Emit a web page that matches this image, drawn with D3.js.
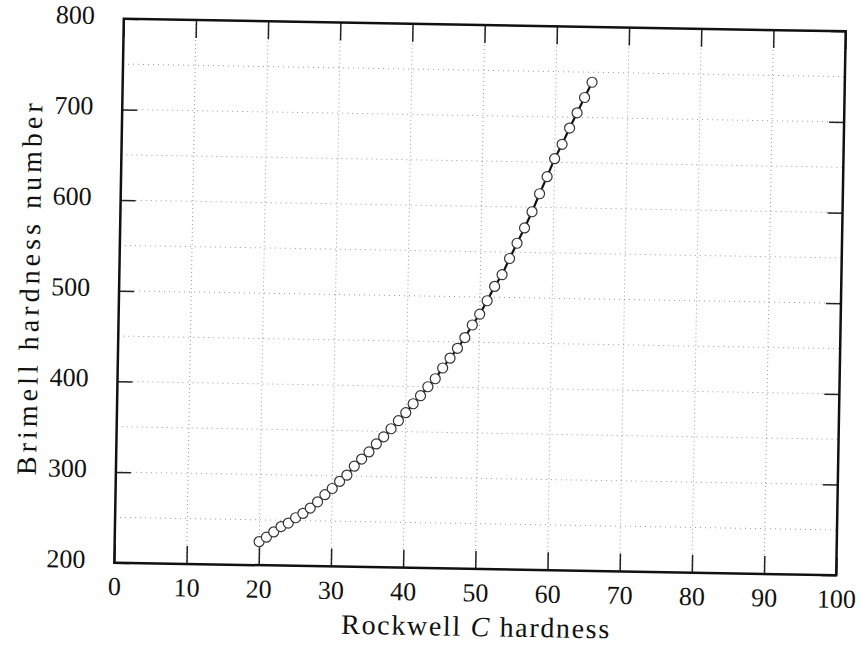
<!DOCTYPE html>
<html>
<head>
<meta charset="utf-8">
<script src="https://cdn.jsdelivr.net/npm/d3@7"></script>
<style>
  body { margin: 0; background: #fff; }
  svg { display: block; }
</style>
</head>
<body>
<script>
// Rockwell C hardness and matching Brinell numbers
var rockwellC = [20, 21, 22, 23, 24, 25, 26, 27, 28, 29, 30, 31, 32, 33, 34, 35, 36, 37, 38, 39,
                 40, 41, 42, 43, 44, 45, 46, 47, 48, 49, 50, 51, 52, 53, 54, 55, 56, 57, 58, 59,
                 60, 61, 62, 63, 64, 65];
var brinell = [226, 231, 237, 243, 247, 253, 258, 264, 271, 279, 286, 294, 301, 311, 319, 327, 336, 344, 353, 362,
               371, 381, 390, 400, 409, 421, 432, 443, 455, 469, 481, 496, 512, 525, 543, 560, 577, 595, 615, 634,
               654, 670, 688, 705, 722, 739];
var xTicks = [0, 10, 20, 30, 40, 50, 60, 70, 80, 90, 100];
var yTicks = [200, 300, 400, 500, 600, 700, 800];
var yGrid = [250, 300, 350, 400, 450, 500, 550, 600, 650, 700, 750];

var W = 861, H = 656;
var margin = { top: 25, right: 20, bottom: 87, left: 119 };
var width = 722, height = 544;
var serif = "Liberation Serif, Times New Roman, serif";

var svg = d3.select("body").append("svg")
    .attr("width", W)
    .attr("height", H);

// the scan is a little tilted
var root = svg.append("g")
    .attr("transform", "rotate(1," + (margin.left + width / 2) + "," + (margin.top + height / 2) + ")");

var g = root.append("g")
    .attr("transform", "translate(" + margin.left + "," + margin.top + ")");

var x = d3.scaleLinear().domain([0, 100]).range([0, width]);
var y = d3.scaleLinear().domain([200, 800]).range([height, 0]);

// dotted grid
g.append("g").selectAll("line").data(xTicks.slice(1, -1)).enter().append("line")
    .attr("x1", function (d) { return x(d); })
    .attr("x2", function (d) { return x(d); })
    .attr("y1", 0).attr("y2", height)
    .attr("stroke", "#999").attr("stroke-width", 1).attr("stroke-dasharray", "1,3");

g.append("g").selectAll("line").data(yGrid).enter().append("line")
    .attr("y1", function (d) { return y(d); })
    .attr("y2", function (d) { return y(d); })
    .attr("x1", 0).attr("x2", width)
    .attr("stroke", "#999").attr("stroke-width", 1).attr("stroke-dasharray", "1,4");

// axes with inward ticks
var tickFont = function (sel) {
    sel.selectAll("text")
        .attr("font-family", serif)
        .attr("font-size", "26px")
        .attr("fill", "#111");
    sel.select(".domain").remove();
    sel.selectAll("line").attr("stroke", "#222").attr("stroke-width", 1.5);
};

g.append("g").attr("transform", "translate(0," + height + ")")
    .call(d3.axisBottom(x).tickValues(xTicks).tickSizeInner(-18).tickSizeOuter(0).tickPadding(14))
    .call(tickFont);

g.append("g").attr("transform", "translate(0,0)")
    .call(d3.axisTop(x).tickValues(xTicks).tickSizeInner(-18).tickSizeOuter(0).tickFormat(""))
    .call(tickFont);

var yAxis = g.append("g")
    .call(d3.axisLeft(y).tickValues(yTicks).tickSizeInner(-15).tickSizeOuter(0).tickPadding(29))
    .call(tickFont);
yAxis.selectAll("text").attr("dy", "0.2em");

g.append("g").attr("transform", "translate(" + width + ",0)")
    .call(d3.axisRight(y).tickValues(yTicks).tickSizeInner(-15).tickSizeOuter(0).tickFormat(""))
    .call(tickFont);

// frame
g.append("rect")
    .attr("x", 0).attr("y", 0)
    .attr("width", width).attr("height", height)
    .attr("fill", "none").attr("stroke", "#111").attr("stroke-width", 2.5);

// data line and markers
var pts = rockwellC.map(function (d, i) { return [d, brinell[i]]; });

var line = d3.line()
    .x(function (d) { return x(d[0]); })
    .y(function (d) { return y(d[1]); });

g.append("path").datum(pts)
    .attr("d", line)
    .attr("fill", "none").attr("stroke", "#111").attr("stroke-width", 2.2);

g.selectAll("circle.pt").data(pts).enter().append("circle")
    .attr("class", "pt")
    .attr("cx", function (d) { return x(d[0]); })
    .attr("cy", function (d) { return y(d[1]); })
    .attr("r", 5)
    .attr("fill", "#fff")
    .attr("stroke", "#333").attr("stroke-width", 1.2);

// axis titles
g.append("text")
    .attr("x", width / 2 + 1).attr("y", height + 67)
    .attr("text-anchor", "middle")
    .attr("font-family", serif)
    .attr("font-size", "28px").attr("fill", "#111")
    .attr("textLength", 268).attr("lengthAdjust", "spacing")
    .html('Rockwell <tspan font-style="italic">C</tspan> hardness');

g.append("text")
    .attr("transform", "translate(" + (-80) + "," + (height / 2) + ") rotate(-90)")
    .attr("text-anchor", "middle")
    .attr("font-family", serif)
    .attr("font-size", "28px").attr("fill", "#111")
    .attr("textLength", 372).attr("lengthAdjust", "spacing")
    .text("Brimell hardness number");
</script>
</body>
</html>
